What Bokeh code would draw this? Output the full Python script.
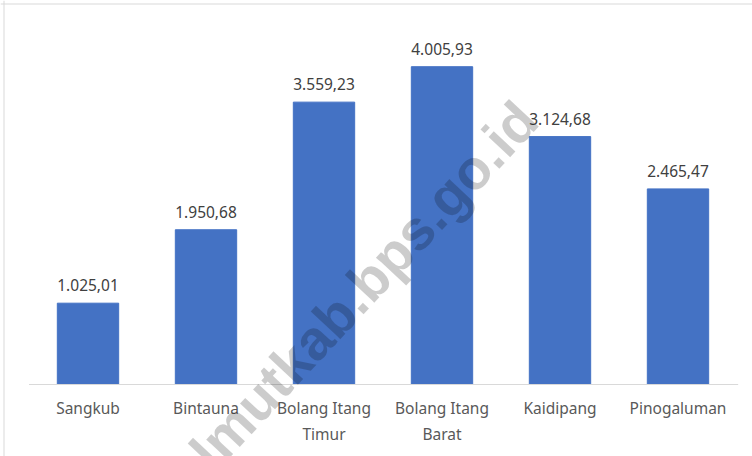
from bokeh.plotting import figure
from bokeh.models import ColumnDataSource, Label, Range1d, Span
from bokeh.core.properties import value
from bokeh.embed import file_html
from bokeh.resources import INLINE

categories = ["Sangkub", "Bintauna", "Bolang Itang\nTimur", "Bolang Itang\nBarat", "Kaidipang", "Pinogaluman"]
values = [1025.01, 1950.68, 3559.23, 4005.93, 3124.68, 2465.47]
value_labels = ["1.025,01", "1.950,68", "3.559,23", "4.005,93", "3.124,68", "2.465,47"]
y_max = 4500
watermark_text = "bolmutkab.bps.go.id"

# ---- layout (pixels) ----
W, H = 752, 456
plot_left, cat_px = 28.5, 118.0      # left edge of category band, px per category
base_px, top_px = 384.0, 27.0        # baseline and top of value axis (px from top)
u_per_px = y_max / (base_px - top_px)

x_start = -plot_left / cat_px
x_end = (W - plot_left) / cat_px
y_end = base_px * u_per_px
y_start = -(H - base_px) * u_per_px

pos = [i + 0.5 for i in range(len(categories))]
src = ColumnDataSource(dict(x=pos, cat=categories, val=values, lbl=value_labels,
                            zero=[0] * len(values)))

p = figure(
    x_range=Range1d(x_start, x_end), y_range=Range1d(y_start, y_end),
    width=W, height=H,
    output_backend="svg", toolbar_location=None,
    x_axis_location=None, y_axis_location=None,
    min_border=0,
)

# chart-area border (left and top)
p.add_layout(Span(location=(3.5 - plot_left) / cat_px, dimension="height",
                  line_color="#d9d9d9", line_width=1))
p.add_layout(Span(location=(base_px - 3.5) * u_per_px, dimension="width",
                  line_color="#d9d9d9", line_width=1))

p.vbar(x="x", top="val", bottom=0, width=0.52, source=src, color="#4472C4")
# baseline across the category band
p.segment(x0=[0], y0=[0], x1=[len(categories) + 0.01], y1=[0], line_color="#d9d9d9", line_width=1)

p.text(x="x", y="val", text="lbl", source=src, text_align="center", text_baseline="middle",
       y_offset=-18, text_font=value("Noto Sans"), text_font_size="15.5px", text_color="#404040")
p.text(x="x", y="zero", text="cat", source=src, text_align="center", text_baseline="top",
       y_offset=12, text_font=value("Noto Sans"), text_font_size="15.5px", text_color="#595959",
       text_line_height=1.2)

wm = Label(x=2.64, y=933, text=watermark_text, angle=47, angle_units="deg",
           text_align="center", text_baseline="middle", text_font="Liberation Sans",
           text_font_style="bold", text_font_size="56px", text_color="#000000", text_alpha=0.2)
p.add_layout(wm)

p.xgrid.grid_line_color = None
p.ygrid.grid_line_color = None
p.outline_line_color = None
p.background_fill_color = "white"
p.border_fill_color = "white"

open("out.html", "w").write(file_html(p, INLINE))
